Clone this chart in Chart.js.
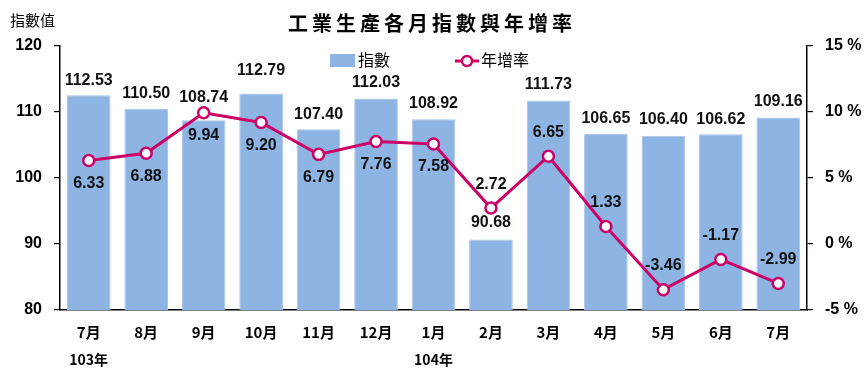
<!DOCTYPE html>
<html><head><meta charset="utf-8">
<script src="https://cdn.jsdelivr.net/npm/chart.js@4/dist/chart.umd.min.js"></script>
<style>html,body{margin:0;padding:0;background:#fff}#wrap{width:865px;height:382px}</style>
</head><body><div id="wrap"><canvas id="c" width="865" height="382"></canvas></div>
<script>
const months = ['7月','8月','9月','10月','11月','12月','1月','2月','3月','4月','5月','6月','7月'];
const years = ['103年','','','','','','104年','','','','','',''];
const indexValues = [112.53,110.50,108.74,112.79,107.40,112.03,108.92,90.68,111.73,106.65,106.40,106.62,109.16];
const growthRates = [6.33,6.88,9.94,9.20,6.79,7.76,7.58,2.72,6.65,1.33,-3.46,-1.17,-2.99];
const leftTicks = [80,90,100,110,120];
const rightTicks = [-5,0,5,10,15];

const NUM_FONT = "'Liberation Sans Narrow','Arial Narrow','Liberation Sans',Arial,sans-serif";
const CJK_FONT = "'Noto Sans CJK TC','Noto Sans CJK SC',sans-serif";
const BAR_COLOR = '#8DB4E2';
const LINE_COLOR = '#CC0066';

const barLabelOffset = [15,15,23,23,15,16,16,17,16,16,16,15,16];
const lineLabelBelow = [true,true,true,true,true,true,true,false,false,false,false,false,false];

const decor = {
  id:'decor',
  afterDatasetsDraw(chart){
    const ctx = chart.ctx;
    ctx.save();
    ctx.fillStyle = '#111';
    ctx.textAlign = 'center';
    ctx.textBaseline = 'middle';
    ctx.font = "bold 16px " + NUM_FONT;
    const bm = chart.getDatasetMeta(0);
    bm.data.forEach((el,i)=>{
      ctx.fillText(indexValues[i].toFixed(2), el.x, el.y - barLabelOffset[i]);
    });
    const lm = chart.getDatasetMeta(1);
    lm.data.forEach((el,i)=>{
      const dy = lineLabelBelow[i] ? 23 : -24;
      ctx.fillText(growthRates[i].toFixed(2), el.x, el.y + dy);
    });
    ctx.restore();
  },
  afterDraw(chart){
    const ctx = chart.ctx;
    ctx.save();
    ctx.fillStyle = '#000';
    ctx.textBaseline = 'middle';
    ctx.textAlign = 'center';
    ctx.font = "bold 14px " + CJK_FONT;
    const xs = chart.scales.x;
    years.forEach((y,i)=>{ if (y) ctx.fillText(y, xs.getPixelForValue(i), 360); });
    ctx.font = "bold 20px " + CJK_FONT;
    ctx.textAlign = 'left';
    const title = '工業生產各月指數與年增率';
    let x = 288;
    for (const ch of title){ ctx.fillText(ch, x, 23); x += 24; }
    ctx.font = "15px " + CJK_FONT;
    ctx.fillText('指數值', 10, 20);
    ctx.fillStyle = BAR_COLOR;
    ctx.fillRect(330, 54, 25, 13);
    ctx.fillStyle = '#000';
    ctx.font = "16px " + CJK_FONT;
    ctx.fillText('指數', 358, 60);
    ctx.strokeStyle = LINE_COLOR;
    ctx.lineWidth = 3;
    ctx.beginPath(); ctx.moveTo(455,61); ctx.lineTo(479,61); ctx.stroke();
    ctx.beginPath(); ctx.arc(467,61,5,0,Math.PI*2); ctx.fillStyle='#fff'; ctx.fill(); ctx.lineWidth=2.5; ctx.stroke();
    ctx.fillStyle = '#000';
    ctx.fillText('年增率', 481, 60);
    ctx.restore();
  }
};

new Chart(document.getElementById('c'), {
  data: {
    labels: months,
    datasets: [
      { type:'bar', label:'指數', data:indexValues, yAxisID:'y', backgroundColor:BAR_COLOR,
        borderColor:'#A9C6EA', borderWidth:1, categoryPercentage:1, barPercentage:0.76, order:2 },
      { type:'line', label:'年增率', data:growthRates, yAxisID:'y1', borderColor:LINE_COLOR, borderWidth:3,
        pointRadius:5.5, pointBorderWidth:2.5, pointBackgroundColor:'#fff', pointBorderColor:LINE_COLOR,
        tension:0, order:1 }
    ]
  },
  options: {
    responsive:false, animation:false, devicePixelRatio:1,
    layout:{ padding:{ top:46, left:0, right:0, bottom:0 } },
    plugins:{ legend:{display:false}, title:{display:false}, tooltip:{enabled:false} },
    scales:{
      x:{
        grid:{ display:false, drawTicks:false },
        border:{ display:true, color:'#000', width:1.5 },
        ticks:{ color:'#000', padding:13, font:{ family:CJK_FONT, size:15, weight:'bold' }, maxRotation:0, autoSkip:false },
        afterFit(s){ s.height = 72; }
      },
      y:{
        position:'left', min:80, max:120,
        afterBuildTicks(s){ s.ticks = leftTicks.map(v=>({value:v})); },
        grid:{ drawOnChartArea:false, drawTicks:true, tickLength:6, color:'#000', lineWidth:1.2 },
        border:{ display:true, color:'#000', width:1.5 },
        ticks:{ color:'#000', padding:12, font:{ family:NUM_FONT, size:16, weight:'bold' } },
        afterFit(s){ s.width = 60; }
      },
      y1:{
        position:'right', min:-5, max:15,
        afterBuildTicks(s){ s.ticks = rightTicks.map(v=>({value:v})); },
        grid:{ drawOnChartArea:false, drawTicks:true, tickLength:6, color:'#000', lineWidth:1.2 },
        border:{ display:true, color:'#000', width:1.5 },
        ticks:{ color:'#000', padding:12, font:{ family:NUM_FONT, size:16, weight:'bold' }, callback:v=> v+' %' },
        afterFit(s){ s.width = 58; }
      }
    }
  },
  plugins:[decor]
});
</script></body></html>
